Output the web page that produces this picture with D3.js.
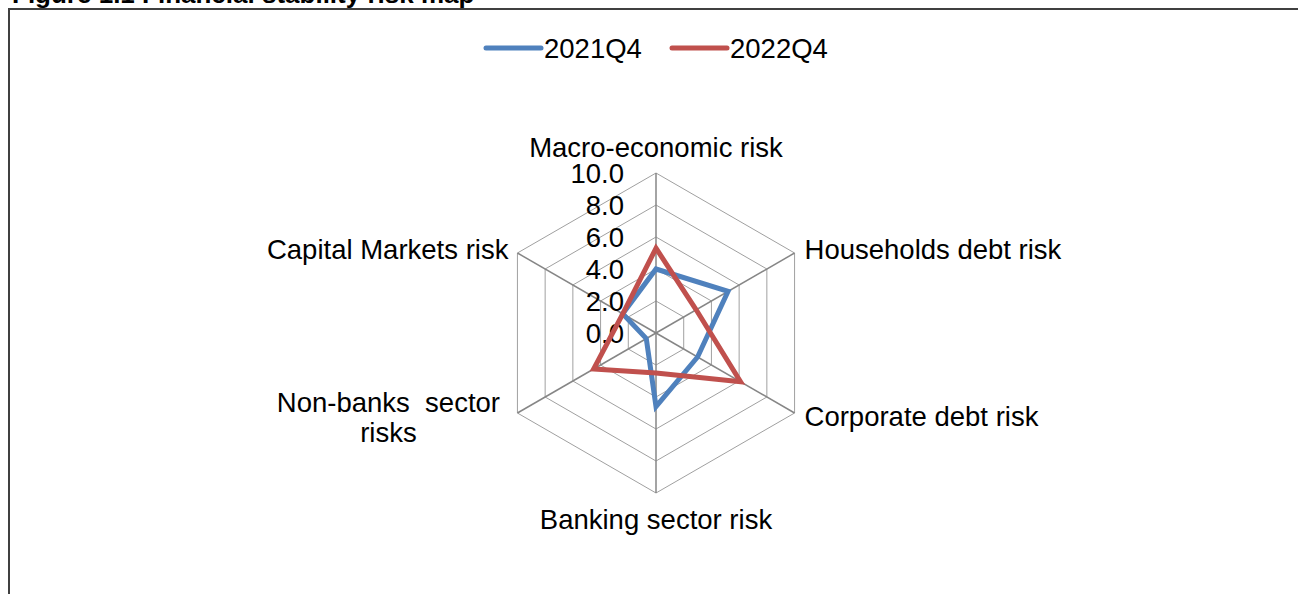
<!DOCTYPE html>
<html>
<head>
<meta charset="utf-8">
<script src="https://cdn.jsdelivr.net/npm/d3@7"></script>
<style>
  html, body { margin: 0; padding: 0; background: #fff; }
  svg { display: block; font-family: "Liberation Sans", Arial, sans-serif; }
</style>
</head>
<body>
<svg id="chart" width="1298" height="594"></svg>
<script>
// ---- data ----
const categories = ["Macro-economic risk", "Households debt risk", "Corporate debt risk",
                    "Banking sector risk", "Non-banks  sector risks", "Capital Markets risk"];
const seriesNames = ["2021Q4", "2022Q4"];
const values2021Q4 = [4.0, 5.2, 3.0, 4.6, 0.7, 2.4];
const values2022Q4 = [5.3, 2.9, 6.1, 2.5, 4.5, 2.4];
const tickValues = [0, 2, 4, 6, 8, 10];
const tickLabels = ["0.0", "2.0", "4.0", "6.0", "8.0", "10.0"];
const titleText = "Figure 1.1 Financial stability risk map";

const colors = ["#4F81BD", "#C0504D"];
const series = [values2021Q4, values2022Q4];

const svg = d3.select("#chart");
const cx = 656, cy = 333, R = 160;
const rScale = d3.scaleLinear().domain([0, 10]).range([0, R]);
const aScale = d3.scaleLinear().domain([0, categories.length]).range([0, 2 * Math.PI]);
const pt = (i, v) => {
  const a = aScale(i);
  return [cx + rScale(v) * Math.sin(a), cy - rScale(v) * Math.cos(a)];
};

// title (clipped at top)
svg.append("text").attr("x", 12).attr("y", 3)
  .attr("font-size", 26).attr("font-weight", "bold").attr("fill", "#000")
  .text(titleText);

// frame
svg.append("rect").attr("x", 9).attr("y", 9).attr("width", 1400).attr("height", 700)
  .attr("fill", "none").attr("stroke", "#404040").attr("stroke-width", 2);

// rings
const g = svg.append("g");
tickValues.filter(t => t > 0).forEach(t => {
  const pts = categories.map((c, i) => pt(i, t));
  g.append("polygon").attr("points", pts.map(p => p.join(",")).join(" "))
    .attr("fill", "none").attr("stroke", "#a0a0a0").attr("stroke-width", 1);
});
// spokes
categories.forEach((c, i) => {
  const p = pt(i, 10);
  g.append("line").attr("x1", cx).attr("y1", cy).attr("x2", p[0]).attr("y2", p[1])
    .attr("stroke", "#868686").attr("stroke-width", 1.5);
});

// tick labels
tickValues.forEach((t, k) => {
  svg.append("text").attr("x", cx - 32).attr("y", cy - rScale(t) + 9.5)
    .attr("text-anchor", "end").attr("font-size", 27.5).attr("fill", "#000")
    .text(tickLabels[k]);
});

// series
const line = d3.line().curve(d3.curveLinearClosed);
series.forEach((vals, s) => {
  svg.append("path")
    .attr("d", line(vals.map((v, i) => pt(i, v))))
    .attr("fill", "none").attr("stroke", colors[s]).attr("stroke-width", 5)
    .attr("stroke-linejoin", "miter");
});

// category labels
const labelLayout = [
  {dx: 0, dy: -16, anchor: "middle"},
  {dx: 10, dy: 6, anchor: "start"},
  {dx: 10, dy: 13, anchor: "start"},
  {dx: 0, dy: 36, anchor: "middle"},
  {dx: -129, dy: -1, anchor: "middle"},
  {dx: -9, dy: 6, anchor: "end"}
];
categories.forEach((c, i) => {
  const p = pt(i, 10);
  const L = labelLayout[i];
  const lines = c === "Non-banks  sector risks" ? ["Non-banks  sector", "risks"] : [c];
  const t = svg.append("text").attr("text-anchor", L.anchor).attr("font-size", 27.5)
    .attr("fill", "#000").style("white-space", "pre");
  lines.forEach((ln, j) => {
    t.append("tspan").attr("x", p[0] + L.dx).attr("y", p[1] + L.dy + j * 30).text(ln);
  });
});

// legend
const legend = [{x: 486}, {x: 672}];
seriesNames.forEach((name, s) => {
  const lx = legend[s].x;
  svg.append("line").attr("x1", lx).attr("x2", lx + 55).attr("y1", 48).attr("y2", 48)
    .attr("stroke", colors[s]).attr("stroke-width", 5).attr("stroke-linecap", "round");
  svg.append("text").attr("x", lx + 58).attr("y", 57.5).attr("font-size", 27.5)
    .attr("fill", "#000").text(name);
});
</script>
</body>
</html>
